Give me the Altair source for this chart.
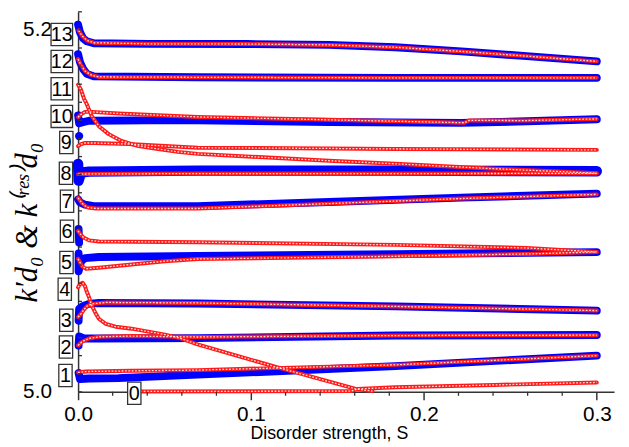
import altair as alt
import pandas as pd

# ---------------- data (s, k) ----------------
B13 = [(0, 5.2029), (0.0011, 5.1986), (0.0029, 5.1953), (0.0051, 5.1937), (0.0091, 5.1926), (0.0406, 5.1923),
       (0.0977, 5.1922), (0.1451, 5.1917), (0.1834, 5.1904), (0.2217, 5.1881), (0.2594, 5.1855), (0.3, 5.1826)]
R13 = [(0.0003, 5.1997), (0.0023, 5.1967), (0.0051, 5.1942), (0.0091, 5.1929), (0.0406, 5.1923), (0.0977, 5.1922),
       (0.1451, 5.1917), (0.1834, 5.1904), (0.2217, 5.1881), (0.2594, 5.1855), (0.3, 5.1826)]
B12 = [(0, 5.1866), (0.0011, 5.1822), (0.0029, 5.1784), (0.0051, 5.1757), (0.0091, 5.1743), (0.0691, 5.1738),
       (0.1834, 5.1735), (0.3, 5.1735)]
R12 = [(0, 5.1839), (0.0017, 5.1806), (0.0040, 5.1773), (0.0074, 5.1751), (0.0120, 5.1740), (0.0691, 5.1738),
       (0.1834, 5.1735), (0.3, 5.1735)]
R11 = [(0, 5.1697), (0.0017, 5.1669), (0.0034, 5.1620), (0.0051, 5.1588), (0.0080, 5.1522), (0.0120, 5.1468),
       (0.0177, 5.1424), (0.0251, 5.1386), (0.0349, 5.1358), (0.0463, 5.1342), (0.0577, 5.1326), (0.0691, 5.1315),
       (0.1451, 5.1277), (0.1834, 5.1260), (0.2406, 5.1233), (0.3, 5.1208)]
B10 = [(0, 5.1528), (0.0006, 5.1484), (0.0023, 5.1489), (0.0063, 5.1498), (0.0406, 5.1500), (0.0691, 5.1500),
       (0.1451, 5.1491), (0.2217, 5.1486), (0.2594, 5.1495), (0.3, 5.1506)]
R10 = [(0, 5.1517), (0.0017, 5.1533), (0.0040, 5.1547), (0.0080, 5.1547), (0.0234, 5.1538), (0.0691, 5.1519),
       (0.1451, 5.1503), (0.2234, 5.1487), (0.2263, 5.1500), (0.2594, 5.1499), (0.3, 5.1508)]
B9 = [(0.0006, 5.1413)]
R9 = [(0, 5.1358), (0.0017, 5.1369), (0.0040, 5.1375), (0.0091, 5.1375), (0.0291, 5.1369), (0.0691, 5.1349),
      (0.1451, 5.1345), (0.1834, 5.1342), (0.3, 5.1337)]
B8 = [(0, 5.1260), (0.0003, 5.1167), (0.0017, 5.1211), (0.0063, 5.1217), (0.0691, 5.1222), (0.1834, 5.1222),
      (0.3, 5.1219)]
R8 = [(0, 5.1203), (0.0063, 5.1204), (0.0691, 5.1206), (0.1834, 5.1206), (0.3, 5.1207)]
B7 = [(0, 5.1064), (0.0011, 5.1047), (0.0040, 5.1034), (0.0091, 5.1026), (0.0691, 5.1026), (0.1451, 5.1049),
      (0.2217, 5.1073), (0.3, 5.1095)]
R7 = [(0, 5.1072), (0.0023, 5.1042), (0.0051, 5.1020), (0.0103, 5.1013), (0.0691, 5.1013), (0.1451, 5.1040),
      (0.2217, 5.1068), (0.3, 5.1091)]
B6 = [(0.0003, 5.0900), (0.0006, 5.0824)]
R6 = [(0, 5.0889), (0.0017, 5.0867), (0.0034, 5.0851), (0.0063, 5.0837), (0.0120, 5.0831), (0.0691, 5.0827),
      (0.1834, 5.0812), (0.2594, 5.0795), (0.3, 5.0773)]
B5 = [(0.0003, 5.0764), (0.0003, 5.0666), (0.0017, 5.0720), (0.0040, 5.0739), (0.0120, 5.0745), (0.0691, 5.0751),
      (0.1834, 5.0761), (0.3, 5.0772)]
R5 = [(0, 5.0735), (0.0023, 5.0695), (0.0046, 5.0680), (0.0120, 5.0686), (0.0309, 5.0704), (0.0503, 5.0722),
      (0.0691, 5.0734), (0.1834, 5.0749), (0.2594, 5.0762), (0.3, 5.0773)]
R4 = [(0, 5.0578), (0.0011, 5.0595), (0.0026, 5.0603), (0.0040, 5.0584), (0.0049, 5.0556), (0.0063, 5.0524),
      (0.0080, 5.0475), (0.0103, 5.0431), (0.0120, 5.0404), (0.0160, 5.0376), (0.0217, 5.0360), (0.0309, 5.0349),
      (0.0406, 5.0333), (0.0503, 5.0316), (0.0594, 5.0295), (0.0691, 5.0262), (0.1149, 5.0136), (0.1606, 5.0016),
      (0.1703, 5.0004)]
B3 = [(0.0003, 5.0393), (0.0006, 5.0458), (0.0029, 5.0475), (0.0063, 5.0486), (0.0120, 5.0491), (0.0691, 5.0488),
      (0.1834, 5.0472), (0.3, 5.0449)]
R3 = [(0, 5.0413), (0.0017, 5.0431), (0.0034, 5.0454), (0.0051, 5.0473), (0.0080, 5.0486), (0.0160, 5.0494),
      (0.0691, 5.0491), (0.1834, 5.0472), (0.3, 5.0449)]
B2 = [(0.0003, 5.0256), (0.0006, 5.0306), (0.0034, 5.0295), (0.0120, 5.0295), (0.0691, 5.0297), (0.1834, 5.0311),
      (0.3, 5.0314)]
R2 = [(0, 5.0256), (0.0023, 5.0277), (0.0063, 5.0295), (0.0120, 5.0304), (0.0309, 5.0308), (0.0691, 5.0303),
      (0.1834, 5.0311), (0.3, 5.0313)]
B1 = [(0.0003, 5.0104), (0.0011, 5.0071), (0.0063, 5.0074), (0.0234, 5.0076), (0.0691, 5.0095), (0.1834, 5.0142),
      (0.3, 5.0200)]
R1 = [(0, 5.0107), (0.0046, 5.0112), (0.0309, 5.0116), (0.0691, 5.0120), (0.1834, 5.0149), (0.3, 5.0200)]
R0 = [(0.0360, 5.0002), (0.1577, 5.0004), (0.1617, 5.0016), (0.1834, 5.0025), (0.2406, 5.0038), (0.3, 5.0052)]

LABEL_TEXT = ["13", "12", "11", "10", "9", "8", "7", "6", "5", "4", "3", "2", "1", "0"]
LABEL_S = [-0.0094, -0.0094, -0.0094, -0.0094, -0.0068, -0.0070, -0.0064, -0.0064, -0.0067, -0.0077,
           -0.0068, -0.0070, -0.0073, 0.0325]
LABEL_K = [5.1975, 5.1825, 5.1675, 5.1522, 5.1378, 5.1208, 5.1053, 5.0887, 5.0715, 5.0567, 5.0396, 5.0248,
           5.0090, 4.9992]

X_MAJOR = [0.0, 0.1, 0.2, 0.3]
X_MINOR = [0.02, 0.04, 0.06, 0.08, 0.12, 0.14, 0.16, 0.18, 0.22, 0.24, 0.26, 0.28]
Y_LABELS = [5.0, 5.2]
Y_TICKS = [5.00, 5.01, 5.02, 5.03, 5.04, 5.05, 5.06, 5.07, 5.08, 5.09, 5.10, 5.11, 5.12, 5.13, 5.14, 5.15,
           5.16, 5.17, 5.18, 5.19, 5.20, 5.21]


def frame(curves):
    rows = []
    for name, pts in curves.items():
        for i, (s, k) in enumerate(pts):
            rows.append({"series": name, "i": i, "s": s, "k": k})
    return pd.DataFrame(rows)


blue_df = frame({"13": B13, "12": B12, "10": B10, "7": B7, "6": B6, "5": B5, "3": B3, "2": B2, "1": B1})
blue_thick_df = frame({"8": B8})
blue_dot_df = frame({"9": B9})
red_df = frame({"13": R13, "12": R12, "11": R11, "10": R10, "9": R9, "8": R8, "7": R7, "6": R6, "5": R5,
                "4": R4, "3": R3, "2": R2, "1": R1, "0": R0})
lab_df = pd.DataFrame({"t": LABEL_TEXT, "s": LABEL_S, "k": LABEL_K})
lab1_df = lab_df[lab_df["t"].str.len() == 1]
lab2_df = lab_df[lab_df["t"].str.len() == 2]

AX = "#333333"
x_axis = alt.Axis(values=X_MAJOR, format=".1f", tickSize=8, tickWidth=1.5, tickColor=AX,
                  domainColor=AX, domainWidth=1.5, grid=False, labelFont="Liberation Sans",
                  labelFontSize=21, labelColor="black", labelPadding=4, labelFlush=False,
                  title="Disorder strength, S", titleFont="Liberation Sans", titleFontSize=18,
                  titleFontWeight="normal", titleColor="black", titleX=254, titleY=47,
                  titleAlign="center", titleBaseline="alphabetic")
y_axis = alt.Axis(values=Y_LABELS, format=".1f", tickSize=0, domainColor=AX, domainWidth=1.5, grid=False,
                  labelFont="Liberation Sans", labelFontSize=21, labelColor="black", labelPadding=27,
                  labelFlush=False,
                  title="k′d₀ & k⁽ʳᵉˢ⁾d₀", titleFont="Liberation Serif", titleFontStyle="italic",
                  titleFontSize=31, titleFontWeight="normal", titleColor="black", titleAngle=270,
                  titleX=-42, titleY=213, titleAlign="center", titleBaseline="alphabetic")

xs = alt.Scale(domain=[0, 0.31], nice=False, zero=False)
ysc = alt.Scale(domain=[5.0, 5.21], nice=False, zero=False)
X = alt.X("s:Q", scale=xs, axis=x_axis)
Y = alt.Y("k:Q", scale=ysc, axis=y_axis)

blue = alt.Chart(blue_df).mark_line(color="#0000ff", strokeWidth=8, strokeCap="round", strokeJoin="round").encode(
    x=X, y=Y, detail="series:N", order="i:Q")
blue_thick = alt.Chart(blue_thick_df).mark_line(color="#0000ff", strokeWidth=10.5, strokeCap="round",
                                                strokeJoin="round").encode(x=X, y=Y, detail="series:N", order="i:Q")
blue_dot = alt.Chart(blue_dot_df).mark_circle(color="#0000ff", size=70, opacity=1).encode(x=X, y=Y)
red = alt.Chart(red_df).mark_line(color="#ff1a1a", strokeWidth=4.0, strokeCap="round", strokeJoin="round").encode(
    x=X, y=Y, detail="series:N", order="i:Q")
red_in = alt.Chart(red_df).mark_line(color="white", strokeWidth=1.3, strokeDash=[1.8, 1.6], opacity=0.85).encode(
    x=X, y=Y, detail="series:N", order="i:Q")

ytick_df = pd.DataFrame({"k": Y_TICKS})
yticks = alt.Chart(ytick_df).mark_rule(color=AX, strokeWidth=1.3).encode(
    y=Y, x=alt.value(0), x2=alt.value(4))
xtick_df = pd.DataFrame({"s": X_MINOR})
xticks = alt.Chart(xtick_df).mark_rule(color=AX, strokeWidth=1.3).encode(
    x=X, y=alt.value(385), y2=alt.value(389))

BOX1 = "M-0.6,-1L0.6,-1L0.6,1L-0.6,1Z"
BOX2 = "M-0.97,-1L0.97,-1L0.97,1L-0.97,1Z"
box1 = alt.Chart(lab1_df).mark_point(shape=BOX1, size=506, filled=True, fill="white", stroke=AX,
                                     strokeWidth=1.3, opacity=1).encode(x=X, y=Y)
box2 = alt.Chart(lab2_df).mark_point(shape=BOX2, size=506, filled=True, fill="white", stroke=AX,
                                     strokeWidth=1.3, opacity=1).encode(x=X, y=Y)
labels = alt.Chart(lab_df).mark_text(font="Liberation Sans", fontSize=20, color="black", align="center",
                                     baseline="middle", dy=1).encode(x=X, y=Y, text="t:N")

chart = alt.layer(blue, blue_thick, blue_dot, red, red_in, yticks, xticks, box1, box2, labels).properties(
    width=543, height=385,
    autosize=alt.AutoSizeParams(type="none"),
    padding={"left": 71, "top": 1, "right": 7, "bottom": 50},
).configure_view(strokeWidth=0)

chart.save("out.html", embed_options={"renderer": "svg", "actions": False})
